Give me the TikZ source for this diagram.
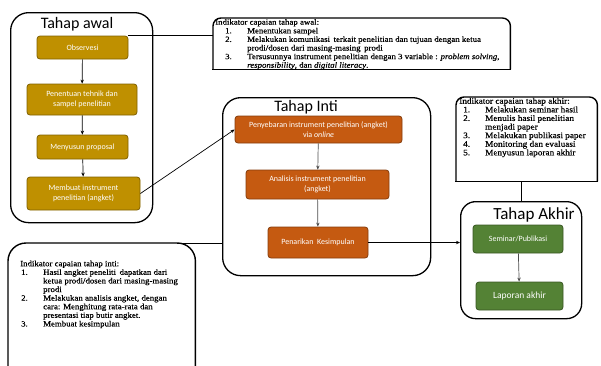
\documentclass[tikz,border=0pt]{standalone}
\usepackage{fontspec}
\setmainfont{Liberation Serif}[FakeStretch=1.1, FakeBold=0.6]
\newfontfamily\calfont{Carlito}
\usetikzlibrary{positioning,calc,arrows.meta}

\definecolor{gold}{HTML}{BF9000}
\definecolor{goldline}{HTML}{7F6000}
\definecolor{rust}{HTML}{C55A11}
\definecolor{rustline}{HTML}{843C0C}
\definecolor{leaf}{HTML}{548235}
\definecolor{leafline}{HTML}{385723}

\tikzset{
  stage/.style={draw, line width=1.3pt, rounded corners=18pt, anchor=north west, inner sep=0pt},
  stagetitle/.style={font=\calfont\fontsize{16}{16}\selectfont, anchor=base},
  stepbox/.style={rounded corners=3pt, line width=0.8pt, text=white, align=center,
    font=\calfont\fontsize{8}{9.6}\selectfont, inner sep=1pt},
  awalbox/.style={stepbox, fill=gold, draw=goldline},
  intibox/.style={stepbox, fill=rust, draw=rustline},
  akhirbox/.style={stepbox, fill=leaf, draw=leafline},
  flow/.style={-{Stealth[length=4pt,width=3.4pt]}, line width=0.7pt},
  note/.style={anchor=north west, inner sep=0pt},
  noteline/.style={line width=1.4pt},
  notetext/.style={anchor=north west, inner sep=0pt, align=left,
    font=\fontsize{8}{8.6}\selectfont}
}

\begin{document}
\begin{tikzpicture}[x=1pt, y=-1pt]
  \path[use as bounding box, clip] (0,0) rectangle (601,365);

  % the three stages
  \node[stage, minimum width=142pt, minimum height=210pt] (awal) at (10,12) {};
  \node[stage, minimum width=208pt, minimum height=178pt] (inti) at (222,97) {};
  \node[stage, rounded corners=15pt, minimum width=121pt, minimum height=117pt] (akhir) at (460,201) {};
  \node[stagetitle] (awaltitle) at (77,28) {Tahap awal};
  \node[stagetitle] (intititle) at (306,111) {Tahap Inti};
  \node[stagetitle, font=\calfont\fontsize{17}{17}\selectfont] (akhirtitle) at (534,219) {Tahap Akhir};

  % tahap awal
  \node[awalbox, minimum width=91pt, minimum height=23pt] (obs) at (82.5,47.5) {Observesi};
  \node[awalbox, minimum width=110pt, minimum height=31pt] (tek) at (82,99.5) {Penentuan tehnik dan\\sampel penelitian};
  \node[awalbox, minimum width=91pt, minimum height=24pt] (prop) at (82.5,147) {Menyusun proposal};
  \node[awalbox, minimum width=113pt, minimum height=33pt] (instr) at (83.5,193.5) {Membuat instrument\\penelitian (angket)};

  % tahap inti
  \node[intibox, minimum width=167pt, minimum height=27pt] (sebar) at (318.5,129.5) {Penyebaran instrument penelitian (angket)\\via \textit{online}};
  \node[intibox, minimum width=143pt, minimum height=29pt] (anal) at (317.5,184.5) {Analisis instrument penelitian\\(angket)};
  \node[intibox, minimum width=100pt, minimum height=31pt] (tarik) at (318,242.5) {Penarikan~ Kesimpulan};

  % tahap akhir
  \node[akhirbox, minimum width=90pt, minimum height=28pt] (semi) at (518,239) {Seminar/Publikasi};
  \node[akhirbox, minimum width=87pt, minimum height=28pt, font=\calfont\fontsize{9.5}{11}\selectfont] (lapor) at (519.5,296) {Laporan akhir};

  % indikator boxes
  \node[note, minimum width=297pt, minimum height=51pt] (ann1) at (213,18) {};
  \node[note, minimum width=141pt, minimum height=84pt] (ann2) at (456,97) {};
  \node[note, minimum width=187pt, minimum height=140pt] (ann3) at (8,243) {};
  \foreach \n/\r in {ann1/8pt, ann2/8pt, ann3/18pt} {
    \draw[noteline, rounded corners=\r] (\n.south west) -- (\n.north west) -- (\n.north east) -- (\n.south east);
    \draw[noteline, line cap=rect] (\n.south west) -- (\n.south east);
  }

  \node[notetext] (ann1txt) at (215,18.5) {%
    \begin{tabular}{@{\hspace{10pt}}p{22pt}@{}l@{}}
      \multicolumn{2}{@{}l@{}}{Indikator capaian tahap awal:}\\
      1. & Menentukan sampel\\
      2. & Melakukan komunikasi\, terkait penelitian dan tujuan dengan ketua\\
         & prodi/dosen dari masing-masing\, prodi\\
      3. & Tersusunnya instrument penelitian dengan 3 variable : \textit{problem solving},\\
         & \textit{responsibility}, dan \textit{digital literacy}.
    \end{tabular}};
  \node[notetext, font=\fontsize{8.4}{8.6}\selectfont] (ann2txt) at (459,97.5) {%
    \begin{tabular}{@{\hspace{4pt}}p{22pt}@{}l@{}}
      \multicolumn{2}{@{}l@{}}{Indikator capaian tahap akhir:}\\
      1. & Melakukan seminar hasil\\
      2. & Menulis hasil penelitian\\
         & menjadi paper\\
      3. & Melakukan publikasi paper\\
      4. & Monitoring dan evaluasi\\
      5. & Menyusun laporan akhir
    \end{tabular}};
  \node[notetext] (ann3txt) at (20,260) {%
    \begin{tabular}{@{\hspace{1pt}}p{22pt}@{}l@{}}
      \multicolumn{2}{@{}l@{}}{Indikator capaian tahap inti:}\\
      1. & Hasil angket peneliti\, dapatkan dari\\
         & ketua prodi/dosen dari masing-masing\\
         & prodi\\
      2. & Melakukan analisis angket, dengan\\
         & cara: Menghitung rata-rata dan\\
         & presentasi tiap butir angket.\\
      3. & Membuat kesimpulan
    \end{tabular}};

  % connectors
  \draw[flow] (obs) -- (tek);
  \draw[flow] (tek) -- (prop);
  \draw[flow] (prop) -- (instr);
  \draw[flow] (instr.east) -- (sebar.west);
  \draw[flow, black!70] (sebar) -- (anal);
  \draw[flow, black!70] (anal) -- (tarik);
  \draw[flow, black!70] (semi) -- (lapor);
  \draw[flow] (tarik.east) -- (tarik.east -| akhir.west);
  \draw[line width=0.8pt] (obs.north east) -- (obs.north east -| ann1.west);
  \draw[line width=1pt] ($(ann3.north east)+(-18,0)$) -- (ann3.north east -| inti.west);
  \draw[line width=1pt] (akhir.north) -- (akhir.north |- ann2.south);
\end{tikzpicture}
\end{document}
